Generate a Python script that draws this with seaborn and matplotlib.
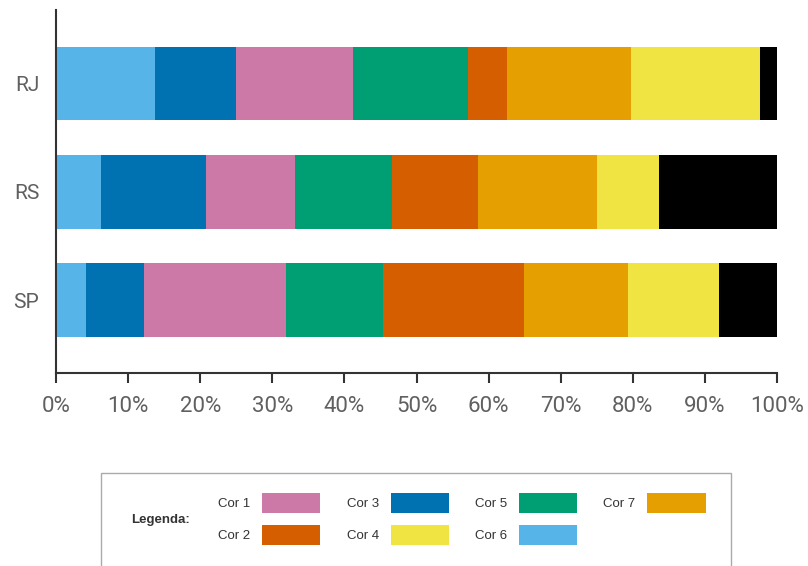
import matplotlib
matplotlib.use("Agg")
import matplotlib.pyplot as plt
from matplotlib.patches import Patch, Rectangle
import numpy as np
import pandas as pd
import seaborn as sns

# Data (percent of each state)
estados = ["RJ", "RS", "SP"]
cor6 = [13.7, 6.3, 4.2]
cor3 = [11.3, 14.5, 8.0]
cor1 = [16.2, 12.3, 19.7]
cor5 = [15.9, 13.5, 13.4]
cor2 = [5.4, 11.9, 19.6]
cor7 = [17.3, 16.5, 14.4]
cor4 = [17.8, 8.6, 12.6]
outros = [2.4, 16.4, 8.1]

x_ticks = [0, 10, 20, 30, 40, 50, 60, 70, 80, 90, 100]

# order of segments from left to right
segmentos = [
    ("Cor 6", cor6, "#56B4E9"),
    ("Cor 3", cor3, "#0072B2"),
    ("Cor 1", cor1, "#CC79A7"),
    ("Cor 5", cor5, "#009E73"),
    ("Cor 2", cor2, "#D55E00"),
    ("Cor 7", cor7, "#E69F00"),
    ("Cor 4", cor4, "#F0E442"),
    ("Outros", outros, "#000000"),
]
legend_order = ["Cor 1", "Cor 2", "Cor 3", "Cor 4", "Cor 5", "Cor 6", "Cor 7"]

sns.set_style("white")
plt.rcParams['font.family'] = ['Roboto', 'DejaVu Sans']

fig = plt.figure(figsize=(8.08, 5.66), dpi=100)
ax = fig.add_axes([56 / 808, 1 - 372.7 / 566, (777 - 56) / 808, (372.7 - 10) / 566])

# stacked bars: draw cumulative totals from the longest to the shortest
df = pd.DataFrame({nome: vals for nome, vals, _ in segmentos}, index=estados)
cum = df.cumsum(axis=1)
for nome, _, cor in reversed(segmentos):
    sns.barplot(x=cum[nome].values, y=estados, orient="h", color=cor,
                saturation=1, width=0.68, linewidth=0, ax=ax)

ax.set_xlim(0, 100)
ax.set_ylim(2.669, -0.679)
ax.set_xticks(x_ticks)
ax.set_xticklabels([f"{t}%" for t in x_ticks], fontsize=16, color="#606060")
ax.set_yticks(range(len(estados)))
ax.set_yticklabels(estados, fontsize=15, color="#606060")
ax.set_xlabel("")
ax.set_ylabel("")
ax.tick_params(axis="x", bottom=True, length=7.5, width=1.5, color="#333333",
               pad=9, direction="out")
ax.tick_params(axis="y", left=False, length=0, pad=12)
sns.despine(ax=ax, top=True, right=True)
for s in ["left", "bottom"]:
    ax.spines[s].set_color("#333333")
    ax.spines[s].set_linewidth(1.5)

# legend box
fig.add_artist(Rectangle((101 / 808, -0.05), (731 - 101) / 808, 0.05 + 1 - 473 / 566,
                         transform=fig.transFigure, fill=False, edgecolor="#AAAAAA",
                         linewidth=1))
fig.text(131 / 808, 1 - 520 / 566, "Legenda:", fontsize=9.5, fontweight="bold",
         color="#333333", va="center", ha="left", family=["Liberation Sans", "DejaVu Sans"])

cores = {nome: cor for nome, _, cor in segmentos}
handles = [Patch(facecolor=cores[n], edgecolor="none") for n in legend_order]
leg = fig.legend(handles, legend_order, ncol=4, markerfirst=False, frameon=False,
                 loc="upper left", bbox_to_anchor=(218 / 808, 1 - 493 / 566),
                 borderpad=0, borderaxespad=0,
                 handlelength=4.4, handleheight=1.9, handletextpad=0.9,
                 columnspacing=2.0, labelspacing=0.95,
                 prop={"family": ["Liberation Sans", "DejaVu Sans"], "size": 9.5})
for t in leg.get_texts():
    t.set_color("#333333")

fig.savefig("out.png", dpi=100)
